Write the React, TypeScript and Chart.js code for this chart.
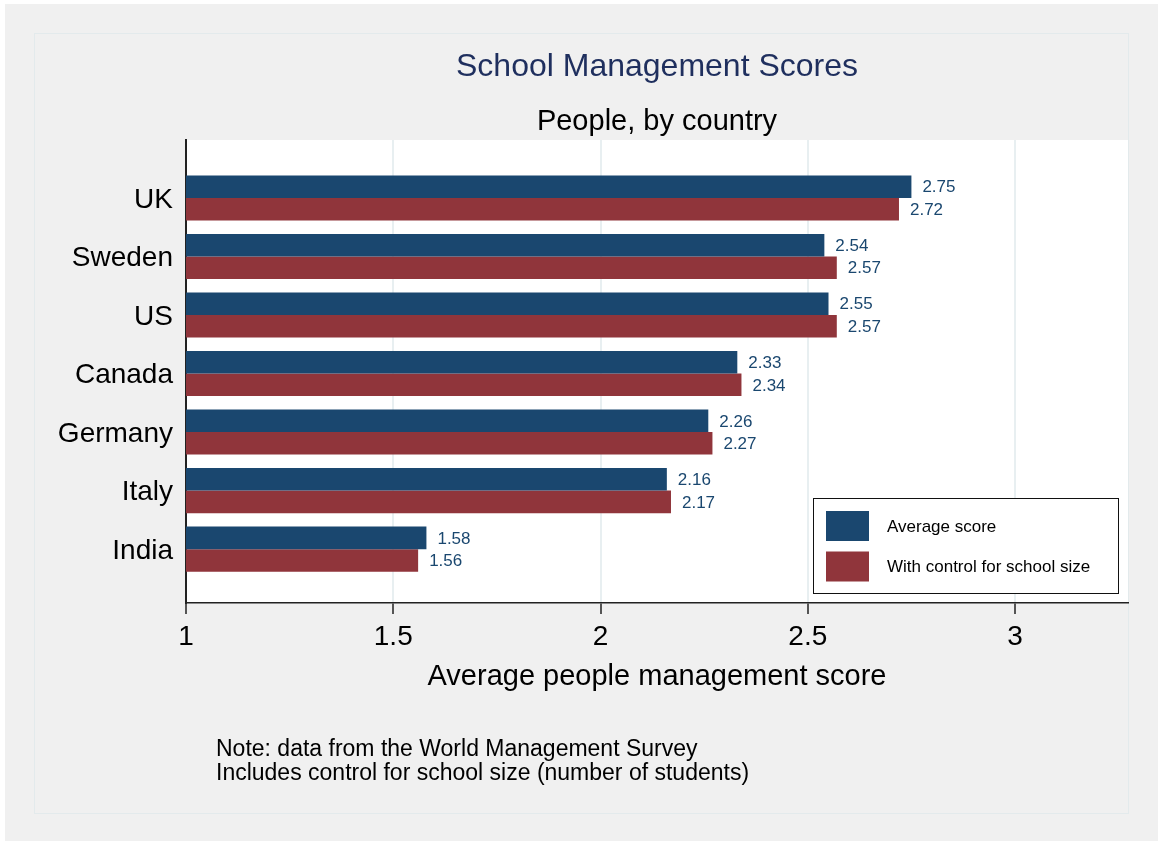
import React, { useEffect, useRef } from 'react';
import { Chart, registerables } from 'chart.js';

Chart.register(...registerables);

const categories = ['UK', 'Sweden', 'US', 'Canada', 'Germany', 'Italy', 'India'];
const averageScore = [2.75, 2.54, 2.55, 2.33, 2.26, 2.16, 1.58];
const controlScore = [2.72, 2.57, 2.57, 2.34, 2.27, 2.17, 1.56];
const xTicks = [1, 1.5, 2, 2.5, 3];
const seriesNames = ['Average score', 'With control for school size'];
const seriesColors = ['#1a476f', '#90353b'];
const titleText = 'School Management Scores';
const subtitleText = 'People, by country';
const xTitleText = 'Average people management score';
const noteLines = [
  'Note: data from the World Management Survey',
  'Includes control for school size (number of students)',
];

const FONT = "'Liberation Sans', Arial, Helvetica, sans-serif";

const decorPlugin = {
  id: 'decor',
  beforeDraw(chart: any) {
    const ctx = chart.ctx;
    const { left, top, right, bottom } = chart.chartArea;
    const cx = (left + right) / 2;
    ctx.save();
    ctx.fillStyle = '#ffffff';
    ctx.fillRect(0, 0, chart.width, chart.height);
    ctx.fillStyle = '#f0f0f0';
    ctx.fillRect(5, 4, chart.width - 5, chart.height - 4);
    ctx.strokeStyle = '#e3eaec';
    ctx.lineWidth = 1;
    ctx.strokeRect(34.5, 33.5, 1094, 780);
    ctx.fillStyle = '#ffffff';
    ctx.fillRect(left, top, right - left, bottom - top);

    ctx.textAlign = 'center';
    ctx.textBaseline = 'middle';
    ctx.fillStyle = '#1f2f5e';
    ctx.font = `32px ${FONT}`;
    ctx.fillText(titleText, cx, 67);
    ctx.fillStyle = '#000000';
    ctx.font = `29px ${FONT}`;
    ctx.fillText(subtitleText, cx, 122);
    ctx.fillText(xTitleText, cx, 677);

    ctx.textAlign = 'left';
    ctx.font = `23px ${FONT}`;
    noteLines.forEach((line, i) => ctx.fillText(line, 216, 750 + i * 24));
    ctx.restore();
  },
  afterDatasetsDraw(chart: any) {
    const ctx = chart.ctx;
    ctx.save();
    ctx.font = `17px ${FONT}`;
    ctx.fillStyle = '#1a476f';
    ctx.textAlign = 'left';
    ctx.textBaseline = 'middle';
    chart.data.datasets.forEach((ds: any, di: number) => {
      const meta = chart.getDatasetMeta(di);
      meta.data.forEach((el: any, i: number) => {
        const v = ds.data[i].x;
        ctx.fillText(v.toFixed(2), el.x + 11, el.y + 1);
      });
    });
    ctx.restore();
  },
  afterDraw(chart: any) {
    const ctx = chart.ctx;
    ctx.save();
    const bx = 813.5, by = 498.5, bw = 305, bh = 95;
    ctx.fillStyle = '#ffffff';
    ctx.fillRect(bx, by, bw, bh);
    ctx.strokeStyle = '#111111';
    ctx.lineWidth = 1;
    ctx.strokeRect(bx, by, bw, bh);
    ctx.font = `17px ${FONT}`;
    ctx.textAlign = 'left';
    ctx.textBaseline = 'middle';
    seriesNames.forEach((name, i) => {
      const sy = 511 + i * 40.5;
      ctx.fillStyle = seriesColors[i];
      ctx.fillRect(826, sy, 43, 30);
      ctx.fillStyle = '#000000';
      ctx.fillText(name, 887, sy + 16);
    });
    ctx.restore();
  },
};

export default function App() {
  const canvasRef = useRef<HTMLCanvasElement | null>(null);

  useEffect(() => {
    const canvas = canvasRef.current;
    if (!canvas) return;
    const chart = new Chart(canvas, {
      type: 'bar',
      data: {
        datasets: [
          {
            label: seriesNames[0],
            data: averageScore.map((v, i) => ({ x: v, y: i })),
            backgroundColor: seriesColors[0],
            borderWidth: 0,
          },
          {
            label: seriesNames[1],
            data: controlScore.map((v, i) => ({ x: v, y: i })),
            backgroundColor: seriesColors[1],
            borderWidth: 0,
          },
        ],
      },
      options: {
        indexAxis: 'y',
        responsive: false,
        animation: false,
        devicePixelRatio: 1,
        categoryPercentage: 0.77,
        barPercentage: 1,
        layout: { padding: { left: 0, right: 30, top: 140, bottom: 0 } },
        plugins: {
          legend: { display: false },
          tooltip: { enabled: false },
          title: { display: false },
        },
        scales: {
          x: {
            type: 'linear',
            min: 1,
            max: 3.2725,
            afterBuildTicks: (scale: any) => {
              scale.ticks = xTicks.map((v) => ({ value: v }));
            },
            afterFit: (scale: any) => {
              scale.height = 238;
            },
            grid: {
              color: (c: any) => (c.tick && c.tick.value === 1 ? 'rgba(0,0,0,0)' : '#e8eff1'),
              lineWidth: 2,
              tickColor: '#222222',
              tickLength: 11,
              tickWidth: 1.5,
            },
            border: { display: true, color: '#222222', width: 1.5 },
            ticks: {
              font: { family: FONT, size: 28 },
              color: '#000000',
              padding: 6,
              maxRotation: 0,
              autoSkip: false,
              callback: (v: any) => String(v),
            },
          },
          y: {
            type: 'linear',
            reverse: true,
            offset: false,
            min: -0.99,
            max: 6.92,
            afterBuildTicks: (scale: any) => {
              scale.ticks = categories.map((_, i) => ({ value: i }));
            },
            afterFit: (scale: any) => {
              scale.width = 186;
            },
            grid: { display: false, drawTicks: false, offset: false },
            border: { display: true, color: '#222222', width: 2 },
            ticks: {
              font: { family: FONT, size: 28 },
              color: '#000000',
              padding: 13,
              labelOffset: 2,
              autoSkip: false,
              callback: (v: any) => categories[v] ?? '',
            },
          },
        },
      },
      plugins: [decorPlugin],
    } as any);
    return () => chart.destroy();
  }, []);

  return (
    <div style={{ position: 'fixed', left: 0, top: 0, width: 1158, height: 841 }}>
      <canvas ref={canvasRef} width={1158} height={841} style={{ display: 'block', width: 1158, height: 841 }} />
    </div>
  );
}
